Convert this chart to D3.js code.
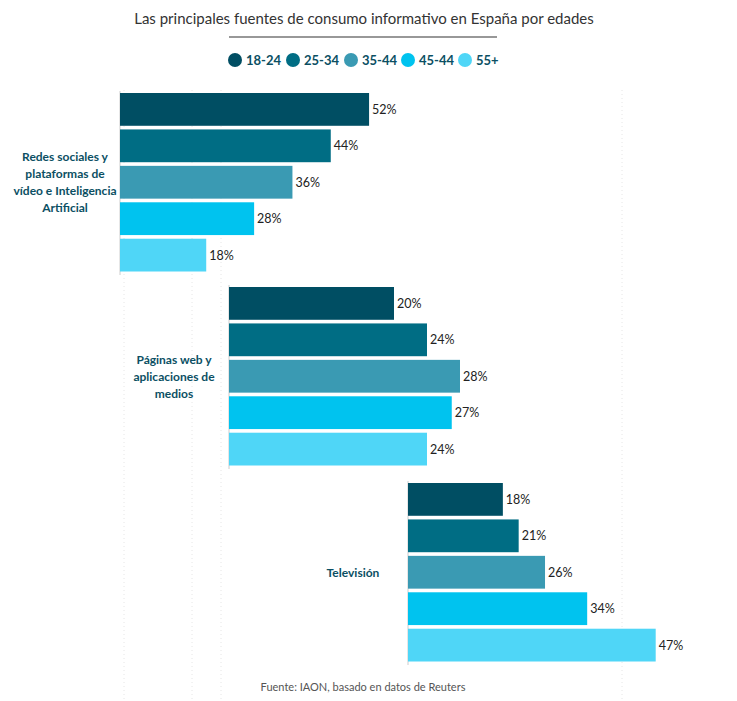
<!DOCTYPE html><html><head><meta charset="utf-8"><script src="https://cdn.jsdelivr.net/npm/d3@7"></script>
<style>body{margin:0;background:#fff;font-family:Lato,sans-serif}</style></head><body><svg id="c" width="737" height="701"></svg>
<script>
const categories=["Redes sociales y|plataformas de|vídeo e Inteligencia|Artificial","Páginas web y|aplicaciones de|medios","Televisión"];
const series=["18-24","25-34","35-44","45-44","55+"];
const values=[[52,44,36,28,18],[20,24,28,27,24],[18,21,26,34,47]];
const colors=["#004e63","#006d84","#3a9ab3","#00c3ef","#4fd6f7"];
const svg=d3.select("#c");
svg.append("text").attr("x",364).attr("y",24).attr("text-anchor","middle").attr("font-size",15).attr("fill","#333").text("Las principales fuentes de consumo informativo en España por edades");
svg.append("line").attr("x1",229).attr("x2",497).attr("y1",37).attr("y2",37).attr("stroke","#333").attr("stroke-width",1.2);
const lx=[229,287,345,402,459];
series.forEach((s,i)=>{svg.append("circle").attr("cx",lx[i]+6).attr("cy",60).attr("r",7).attr("fill",colors[i]);
svg.append("text").attr("x",lx[i]+17).attr("y",65).attr("font-size",13).attr("font-weight","bold").attr("fill","#0b4f63").text(s);});
// faint dotted grid
[124,192,221,622].forEach(x=>svg.append("line").attr("x1",x).attr("x2",x).attr("y1",90).attr("y2",700).attr("stroke","#e6e6e6").attr("stroke-dasharray","1,3"));
const starts=[120,229,408], widths=[479,825,527], tops=[93,287,483];
values.forEach((vals,g)=>{
 const x=d3.scaleLinear().domain([0,100]).range([starts[g],starts[g]+widths[g]]);
 const y=d3.scaleBand().domain(series).range([tops[g],tops[g]+178.5]).paddingInner(0.1).paddingOuter(0);
 const gr=svg.append("g");
 gr.append("line").attr("x1",starts[g]).attr("x2",starts[g]).attr("y1",tops[g]-2).attr("y2",tops[g]+182).attr("stroke","#ccc");
 gr.selectAll("rect").data(vals).join("rect").attr("x",x(0)).attr("y",(d,i)=>y(series[i])).attr("width",d=>x(d)-x(0)).attr("height",y.bandwidth()).attr("fill",(d,i)=>colors[i]);
 gr.selectAll("text.v").data(vals).join("text").attr("x",d=>x(d)+3).attr("y",(d,i)=>y(series[i])+y.bandwidth()/2+4.5).attr("font-size",12.5).attr("fill","#222").text(d=>d+"%");
 const lines=categories[g].split("|");
 const cy=tops[g]+89;
 lines.forEach((l,k)=>svg.append("text").attr("x",starts[g]-55).attr("y",cy+(k-(lines.length-1)/2)*17+4.5).attr("text-anchor","middle").attr("font-size",12).attr("font-weight","bold").attr("fill","#0b4f63").text(l));
});
svg.append("text").attr("x",363).attr("y",691).attr("text-anchor","middle").attr("font-size",11).attr("fill","#555").text("Fuente: IAON, basado en datos de Reuters");
</script></body></html>
